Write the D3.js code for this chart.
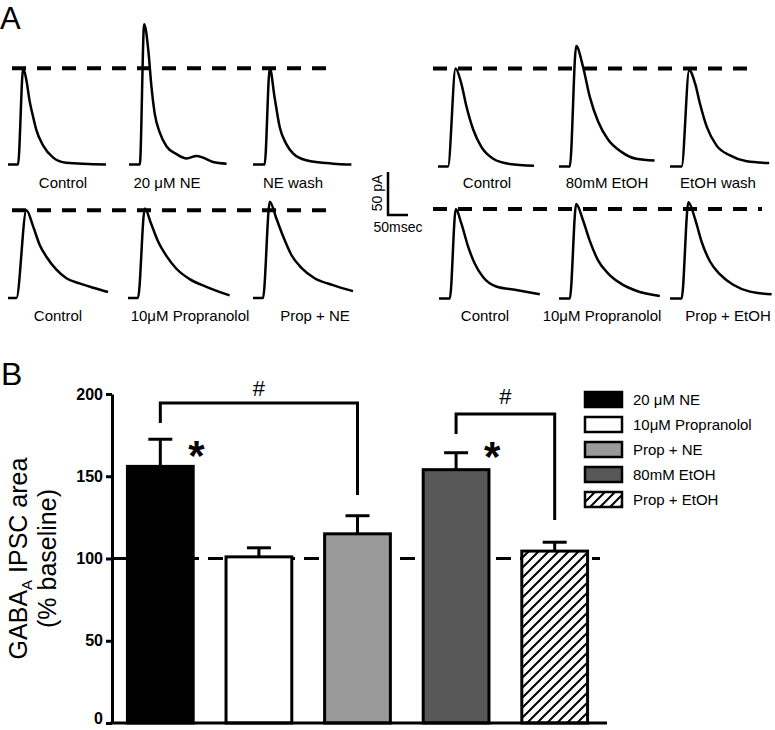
<!DOCTYPE html>
<html>
<head>
<meta charset="utf-8">
<script src="https://cdn.jsdelivr.net/npm/d3@7/dist/d3.min.js"></script>
<style>
  body { margin: 0; background: #fff; }
  svg text { font-family: "Liberation Sans", Arial, sans-serif; fill: #000; }
</style>
</head>
<body>
<div id="fig"></div>
<script>
// ---- panel A: IPSC traces, [time ms, current pA] ----
var tlControl = [[0,0],[25,0],[38,112],[46,98],[54,74],[63,55],[71,40],[88,22],[113,8],[145,2],[245,0]]
var tlNE      = [[0,0],[27,0],[38,163],[48,134],[56,91],[64,60],[77,37],[94,21],[119,12],[144,7],[169,10],[185,8],[210,3],[244,1]]
var tlWash    = [[0,0],[29,0],[42,112],[54,78],[67,43],[83,24],[100,13],[133,5],[200,1],[246,0]]

var blControl = [[0,0],[21,0],[46,102],[63,83],[79,62],[96,48],[121,33],[146,23],[179,17],[213,12],[250,7]]
var blProp    = [[0,0],[25,0],[42,104],[58,86],[75,66],[96,49],[121,34],[154,22],[196,13],[254,3]]
var blPropNE  = [[0,0],[25,0],[42,112],[58,93],[75,72],[96,50],[121,35],[154,23],[200,15],[250,8]]

var trControl = [[0,0],[25,0],[44,114],[58,97],[71,70],[88,43],[108,23],[138,9],[179,3],[240,1]]
var trEtOH    = [[0,0],[27,0],[43,140],[60,116],[77,81],[98,52],[123,31],[156,17],[193,9],[239,7]]
var trWash    = [[0,0],[29,0],[48,112],[63,96],[75,73],[92,46],[117,24],[150,13],[192,6],[248,4]]

var brControl = [[0,0],[27,0],[42,104],[56,87],[73,60],[89,41],[110,25],[143,14],[193,10],[252,5]]
var brProp    = [[0,0],[27,0],[43,110],[60,91],[77,67],[98,44],[123,29],[156,17],[193,9],[252,3]]
var brPropEtOH= [[0,0],[29,0],[46,112],[63,92],[79,66],[100,43],[125,28],[158,16],[200,8],[254,5]]

var tlLabels = ["Control", "20 \u03bcM NE", "NE wash"]
var blLabels = ["Control", "10\u03bcM Propranolol", "Prop + NE"]
var trLabels = ["Control", "80mM EtOH", "EtOH wash"]
var brLabels = ["Control", "10\u03bcM Propranolol", "Prop + EtOH"]

// ---- panel B: bar chart ----
var barLabels = ["20 \u03bcM NE", "10\u03bcM Propranolol", "Prop + NE", "80mM EtOH", "Prop + EtOH"]
var barMeans  = [156, 101, 115, 154, 104.5]
var barSems   = [16.5, 5.5, 11, 10.3, 5.4]
var yTicks    = [0, 50, 100, 150, 200]

var W = 775, H = 730
var svg = d3.select("#fig").append("svg")
            .attr("width", W)
            .attr("height", H)

var defs = svg.append("defs")
var hatch = defs.append("pattern")
    .attr("id", "hatch")
    .attr("patternUnits", "userSpaceOnUse")
    .attr("width", 10).attr("height", 10)
hatch.append("rect").attr("width", 10).attr("height", 10).attr("fill", "#fff")
hatch.append("path")
    .attr("d", "M-2,2 l4,-4 M0,10 l10,-10 M8,12 l4,-4")
    .attr("stroke", "#000").attr("stroke-width", 2)

// ===== panel A =====
svg.append("text").attr("x", 0).attr("y", 29).style("font-size", "31px").text("A")

var tx = d3.scaleLinear().domain([0, 250]).range([0, 100])   // 50 ms -> 20 px
var ty = d3.scaleLinear().domain([0, 50]).range([0, -43])    // 50 pA -> 43 px
var traceLine = d3.line()
    .x(function(d) { return tx(d[0]) })
    .y(function(d) { return ty(d[1]) })
    .curve(d3.curveMonotoneX)

var rows = [
  { base: 164.5, x0: [8, 129, 253], traces: [tlControl, tlNE, tlWash], labels: tlLabels, lx: [63, 167, 293], ly: 188, dash: [12, 332] },
  { base: 298,   x0: [8, 128, 253], traces: [blControl, blProp, blPropNE], labels: blLabels, lx: [58, 190, 315], ly: 321, dash: [12, 332] },
  { base: 166.5, x0: [438, 559, 670], traces: [trControl, trEtOH, trWash], labels: trLabels, lx: [487, 607, 718], ly: 188, dash: [433, 753] },
  { base: 298.5, x0: [439, 559, 670], traces: [brControl, brProp, brPropEtOH], labels: brLabels, lx: [485, 602, 728], ly: 321, dash: [433, 762] }
]

rows.forEach(function(r) {
    var g = svg.append("g")
    // dashed reference at control peak
    var peakY = r.base + ty(d3.max(r.traces[0], function(d) { return d[1] }))
    g.append("line")
        .attr("x1", r.dash[0]).attr("x2", r.dash[1])
        .attr("y1", peakY).attr("y2", peakY)
        .attr("stroke", "#000").attr("stroke-width", 4)
        .attr("stroke-dasharray", "14,11")

    g.selectAll(".trace")
        .data(r.traces)
        .enter().append("path")
        .attr("class", "trace")
        .attr("transform", function(d, i) { return "translate(" + r.x0[i] + "," + r.base + ")" })
        .attr("d", traceLine)
        .attr("fill", "none")
        .attr("stroke", "#000")
        .attr("stroke-width", 2.5)
        .attr("stroke-linejoin", "round")

    g.selectAll(".tlabel")
        .data(r.labels)
        .enter().append("text")
        .attr("class", "tlabel")
        .attr("x", function(d, i) { return r.lx[i] })
        .attr("y", r.ly)
        .attr("text-anchor", "middle")
        .style("font-size", "15px")
        .text(function(d) { return d })
})

// scale bar
var sbX = 388, sbY = 215
svg.append("path")
    .attr("d", "M" + sbX + "," + (sbY + ty(50)) + "V" + sbY + "H" + (sbX + tx(50)))
    .attr("fill", "none").attr("stroke", "#000").attr("stroke-width", 2.5)
svg.append("text")
    .attr("transform", "translate(382,193) rotate(-90)")
    .attr("text-anchor", "middle")
    .style("font-size", "14px")
    .text("50 pA")
svg.append("text")
    .attr("x", 398).attr("y", 232)
    .attr("text-anchor", "middle")
    .style("font-size", "14px")
    .text("50msec")

// ===== panel B =====
svg.append("text").attr("x", 1).attr("y", 385).style("font-size", "32px").text("B")

var y = d3.scaleLinear().domain([0, 200]).range([723, 394])
var x = d3.scaleBand().domain(barLabels).range([111, 604]).paddingInner(0.333).paddingOuter(0.1667)
var color = d3.scaleOrdinal().domain(barLabels).range(["#000", "#fff", "#999", "#575757", "url(#hatch)"])

// baseline 100% dashed line
svg.append("line")
    .attr("x1", 112).attr("x2", 600)
    .attr("y1", y(100)).attr("y2", y(100))
    .attr("stroke", "#000").attr("stroke-width", 3)
    .attr("stroke-dasharray", "15,9")

var bars = svg.selectAll(".bar")
    .data(barMeans)
    .enter().append("g")
    .attr("class", "bar")

bars.append("line")
    .attr("x1", function(d, i) { return x(barLabels[i]) + x.bandwidth() / 2 })
    .attr("x2", function(d, i) { return x(barLabels[i]) + x.bandwidth() / 2 })
    .attr("y1", function(d) { return y(d) })
    .attr("y2", function(d, i) { return y(d + barSems[i]) })
    .attr("stroke", "#000").attr("stroke-width", 3)
bars.append("line")
    .attr("x1", function(d, i) { return x(barLabels[i]) + x.bandwidth() / 2 - 12 })
    .attr("x2", function(d, i) { return x(barLabels[i]) + x.bandwidth() / 2 + 12 })
    .attr("y1", function(d, i) { return y(d + barSems[i]) })
    .attr("y2", function(d, i) { return y(d + barSems[i]) })
    .attr("stroke", "#000").attr("stroke-width", 3)

bars.append("rect")
    .attr("x", function(d, i) { return x(barLabels[i]) })
    .attr("y", function(d) { return y(d) })
    .attr("width", x.bandwidth())
    .attr("height", function(d) { return y(0) - y(d) })
    .attr("fill", function(d, i) { return color(barLabels[i]) })
    .attr("stroke", "#000").attr("stroke-width", 3)

// axes
var yAxis = svg.append("g")
    .attr("transform", "translate(112,0)")
    .call(d3.axisLeft(y).tickValues(yTicks).tickSize(6).tickSizeOuter(0).tickPadding(3))
yAxis.select(".domain").attr("stroke-width", 3)
yAxis.selectAll(".tick line").attr("stroke-width", 3)
yAxis.selectAll(".tick text")
    .style("font-size", "16px").style("font-weight", "bold")
    .attr("font-family", null)
// keep the "0" inside the picture
yAxis.selectAll(".tick text").filter(function(d) { return d === 0 }).attr("dy", "0.05em")

svg.append("line")
    .attr("x1", 110.5).attr("x2", 607)
    .attr("y1", y(0)).attr("y2", y(0))
    .attr("stroke", "#000").attr("stroke-width", 3)

// y label
var yl = svg.append("text")
    .attr("transform", "translate(27," + y(100) + ") rotate(-90)")
    .attr("text-anchor", "middle")
    .style("font-size", "25px")
yl.append("tspan").text("GABA")
yl.append("tspan").attr("dy", 5).style("font-size", "15px").text("A")
yl.append("tspan").attr("dy", -5).text(" IPSC area")
svg.append("text")
    .attr("transform", "translate(56," + y(100) + ") rotate(-90)")
    .attr("text-anchor", "middle")
    .style("font-size", "25px")
    .text("(% baseline)")

// significance brackets
function cx(i) { return x(barLabels[i]) + x.bandwidth() / 2 }
var brackets = [
  { a: 0, b: 2, top: 194.5, la: 182.4, lb: 138.6, hy: 396 },
  { a: 3, b: 4, top: 187.8, la: 175.7, lb: 123.4, hy: 404 }
]
brackets.forEach(function(b) {
    svg.append("path")
        .attr("d", "M" + cx(b.a) + "," + y(b.la) + "V" + y(b.top) + "H" + cx(b.b) + "V" + y(b.lb))
        .attr("fill", "none").attr("stroke", "#000").attr("stroke-width", 3)
    svg.append("text")
        .attr("x", (cx(b.a) + cx(b.b)) / 2).attr("y", b.hy)
        .attr("text-anchor", "middle")
        .style("font-size", "22px")
        .text("#")
})

// asterisks next to NE and EtOH bars
svg.selectAll(".star")
    .data([0, 3])
    .enter().append("text")
    .attr("class", "star")
    .attr("x", function(i) { return cx(i) + 36 })
    .attr("y", function(i) { return y(barMeans[i] + barSems[i]) + (i === 0 ? 31 : 18) })
    .attr("text-anchor", "middle")
    .style("font-size", "42px").style("font-weight", "bold")
    .text("*")

// legend
var legend = svg.selectAll(".legend")
    .data(barLabels)
    .enter().append("g")
    .attr("class", "legend")
    .attr("transform", function(d, i) { return "translate(585," + (392 + i * 25) + ")" })
legend.append("rect")
    .attr("width", 37).attr("height", 15)
    .attr("fill", function(d) { return color(d) })
    .attr("stroke", "#000").attr("stroke-width", 2.5)
legend.append("text")
    .attr("x", 48).attr("y", 13)
    .style("font-size", "15px")
    .text(function(d) { return d })
</script>
</body>
</html>
